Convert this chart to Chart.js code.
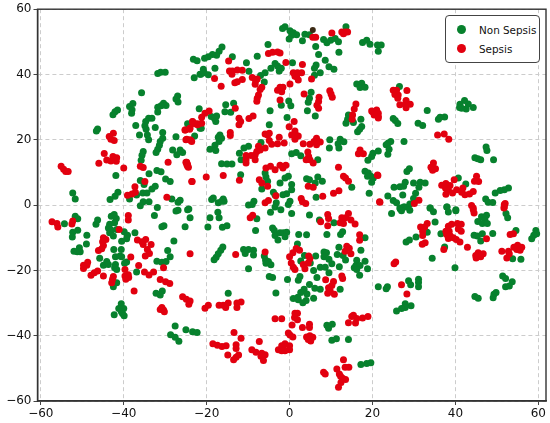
<!DOCTYPE html>
<html>
<head>
<meta charset="utf-8">
<script src="https://cdn.jsdelivr.net/npm/chart.js@4"></script>
<style>
html,body{margin:0;padding:0;background:#fff;}
#wrap{position:relative;width:550px;height:423px;overflow:hidden;font-family:"DejaVu Sans",sans-serif;}
#c{position:absolute;left:0;top:0;}
#legend{position:absolute;left:445px;top:15px;width:93px;height:46px;border:1px solid #444;border-radius:4px;background:#fff;box-sizing:content-box;}
.item{position:absolute;left:33px;font-size:10.4px;line-height:14px;color:#111;white-space:nowrap;}
.dot{position:absolute;left:11px;width:9px;height:9px;border-radius:50%;}
</style>
</head>
<body>
<div id="wrap"><canvas id="c" width="550" height="423"></canvas><div id="legend"></div></div>
<script>
const seriesNames = ["Non Sepsis", "Sepsis"];
const tickValues = [-60, -40, -20, 0, 20, 40, 60];

const nonSepsis = [
[-23.2,44.7],[-22.3,44.2],[-23,39],[-21.6,40.1],[-31.8,40.3],[-31.1,40.7],[-30,40.7],[-35.7,34.4],[-27,33.4],[-27.4,32.5],[-26.9,31.6],[-21.8,29.5],
[-37.8,31.1],[-38.6,30.2],[-38,29.2],[-38.1,28.1],[-41.5,29.1],[-42.1,28.6],[-42.6,27.7],[-46.3,23.3],[-46.6,22.7],[-37.1,24.4],[-36.2,21.5],
[-31.8,30],[-30.4,31.2],[-29.8,30.5],[-31,30.4],[-31.8,28.5],[-34,26.6],[-33.2,26.6],[-34.7,25.6],[-34.9,24.3],[-34.6,23.2],[-34.3,21.5],[-34,20],
[-32.4,23.8],[-30.6,22.2],[-30.6,20.5],[-31.2,19.5],[-31.4,18.3],[-31.8,17.1],[-32.2,16.1],[-27.4,20.9],[-24.6,24.9],[-22.9,21.2],[-21.6,23.5],
[-28.2,16.9],[-26.4,16.9],[-25.8,16.1],[-27.2,15.4],[-35.3,16.4],[-35.6,15.3],[-35.8,13.7],[-41.9,9.1],[-33.9,9.6],[-32,10.6],[-31,10.2],[-29.9,8],[-28.8,7.2],
[-36,7.5],[-35.1,6.3],[-32.4,5.8],[-33.2,4.9],[-35.4,3.7],[-34.4,3.7],[-36.9,3.1],[-41.4,3.9],[-42.1,2.7],[-38.6,1.9],[-43.3,1.7],[-52.3,3.7],[-51.7,1.9],
[-28.4,1.9],[-26.4,1.5],[-26.9,0.9],[-35.3,1],[-33.9,1],[-36,-0.2],[-31.9,-0.7],[-26.9,-1.6],[-24.3,-1.2],
[-1.1,54.6],[-1.7,54.1],[0.1,53.4],[0.9,52.8],[1.7,52.2],[0.5,52],[-0.1,50.9],[3.7,52.3],[4.8,52.2],[3.1,50.3],[6.3,48.6],[8.2,50.7],[9,49.7],[9.9,50.5],[11,51],[11.8,50],
[13.6,54.6],[11.9,46.8],[7,46.1],[8.6,44.4],[6.4,42.9],[6,41.9],[9.5,42.4],[10.7,41.6],[7.4,40.5],[6,39.8],[17.6,49.8],[18.6,50.5],[19.4,49.3],[21.2,49],[22.1,49],[21.4,47.1],
[-5.2,49.2],[-16.3,48.4],[-17,47.1],[-17.6,45.9],[-18.6,46.1],[-19.6,45.4],[-20.5,45],[-13.8,45.4],[-7.8,45.6],[-10.4,43.6],[-20.8,41.6],[-21.4,40.1],[-20.6,40.5],[-19.6,39.9],[-18,41.9],
[-9.8,41],[-7,39.7],[-5.9,40.5],[-6.1,37.7],[-4.5,41.9],[-3.5,43.4],[-2.9,42.6],[-2.5,41.1],[0.7,43.6],[-2,41.9],[16.2,37.1],[17.4,37.3],[17,36],[18.2,36.1],
[5.2,34.6],[4.8,32.7],[4.5,31.5],[-0.2,31.9],[0.3,30.4],[-2,30.6],[4.3,28.9],[6.2,27.3],[-4.7,28.9],[-15.4,30.7],[-13.5,31.2],[-15.6,28.6],[-14.2,28.4],
[-18.9,27.1],[-17.6,27.3],[-18.1,26.5],[-17.8,25.6],[-21.3,23.5],[-0.6,26.8],[-4.9,24.6],[-16.8,21.5],[-17.2,20.8],[-16.4,20.5],[-17,19.5],[-18,18.3],[-19.2,17.1],[-17.8,16.7],
[-6.9,19.2],[-9.9,18],[-11,17.5],[-12.1,15.9],[-11.7,13.9],[1.6,16.1],[0.5,15.7],[2.7,15.1],[9.7,20],[9.6,17.5],[12.2,20.2],[13.1,19.4],[11.7,18.8],[11.9,17.5],[6.8,13.9],
[-16.4,12.7],[-15.1,12.6],[-13.9,12.6],[-11.8,9.3],[-5.9,9.8],[-5.7,8.6],[-5.3,7.3],[-2.3,6.8],[-6.7,4.9],[-3.9,3.9],[-3.5,3.1],[-1.6,3.2],[-0.7,3.5],[0.5,6.3],[0.5,4.7],[-0.3,8.8],[-1.1,8.3],
[4.1,8.1],[4.8,7.8],[6.8,8.6],[6.2,6.8],[7.9,7.3],[6.4,2.4],[19.2,3.6],[-18.4,2.2],[-18.8,1.7],[-16,1.9],[-15.8,1.2],[-17.2,0.7],[-16.4,1.2],[-9.9,0],[-8.6,1.2],[-9,0.2],[0.1,1.2],[-0.3,0.2],[-3.2,0.7],[-3.5,-0.6],
[13.6,25.1],[14.2,27.6],[14,26.3],[15.4,25.3],[17.2,26.3],[17.4,24.1],[16.9,23.2],[16.4,22.5],[20.1,15.9],[19.8,14.9],[18.9,13.7],[18.2,10.4],[19,9.8],[19.6,8.8],[19.8,7],[15,5.5],
[26.5,36.3],[33.2,29],[42.2,32],[41.1,30.9],[43.1,31],[41,29.9],[42.6,29.4],[44.3,29.9],[41.5,29.7],[37.4,27],[35.9,26.3],[36.3,26.9],[25,26.5],[25.5,25.9],[26.1,25],[31,25.1],[32.1,24.4],
[27.6,19.5],[24.4,19.5],[23.8,19],[23.3,18.5],[24,17.1],[23.7,15.6],[21.4,16.6],[47.4,17.8],[47.6,16.7],[44.7,14.5],[45.4,14.2],[46.1,13.9],[49.2,13.9],[28.9,11.1],[28.3,10.3],[18.8,8.8],[20.2,8.3],
[25.2,5.5],[26.6,5.6],[27.9,7],[27.5,5.8],[29.9,6.8],[31.5,7],[32.7,6.8],[31.2,5.5],[30.4,3.6],[27.3,3.1],[23.7,2.8],[25,1.4],[25.8,0.7],[29.9,2],[29,0.3],[26.6,-0.9],[27.8,-0.6],[33.9,-0.9],[37.9,-0.6],[40.1,-1.4],
[40.7,8.3],[42.5,6.5],[52.8,5.2],[51.8,4.7],[50.8,4.5],[49.6,3.7],[47.3,1.9],[47.9,0.9],[49,0.8],
[-54.3,-5.7],[-51.7,-3.4],[-51.1,-4.2],[-51.1,-7.7],[-52.3,-8.3],[-52.4,-9.8],[-48.9,-9.2],[-49,-11.9],[-50.7,-13.1],[-52,-14.1],[-51.2,-14.3],[-50.5,-14.3],[-46.3,-4.6],[-46.7,-5.9],
[-43,-3.4],[-42.3,-2.9],[-41.8,-4.1],[-42.2,-5.4],[-43.4,-5.9],[-43.7,-7],[-43,-7.7],[-43.4,-8.5],[-42.5,-9.5],[-41.7,-7.5],[-39.9,-8.2],[-39.1,-9.2],[-39.3,-10.3],[-40.5,-11.1],[-37.3,-8.5],
[-42.4,-13.6],[-40.6,-13.6],[-42,-15.8],[-40.9,-15.6],[-40.5,-15.8],[-45.8,-16.3],[-44.1,-17.3],[-44.9,-18.4],[-43.7,-18.2],[-42,-18.2],[-42.2,-19.2],[-41.7,-19.7],[-39.3,-17.4],[-39.8,-17.8],[-36.9,-20.5],
[-32,-17.2],[-30.8,-17.5],[-29.8,-17.3],[-29.4,-13.9],[-28.8,-15.8],[-27.9,-11],[-25.2,-6.6],[-24,-3.9],[-24.6,-1.4],[-27.4,-1.8],[-32.6,-3.2],[-30.3,-6.3],[-30.8,-6.6],
[-41.7,-23.8],[-42.5,-25],[-32.2,-27],[-31.2,-27.5],[-30.7,-26.3],[-40.6,-30.2],[-41.2,-31.7],[-40,-31.7],[-40.6,-32.6],[-42.3,-33.6],[-40.3,-33.2],[-39.9,-33.9],
[-27.6,-37],[-25,-38.2],[-23.4,-38.8],[-22.3,-39],[-28.7,-39.7],[-27.6,-40.5],[-26.7,-41.7],
[-19.7,-6.7],[-19.2,-3.9],[-17.3,-2.2],[-17,-3.9],[-16.2,-6.8],[-15.1,-6.3],[-7.9,-4.2],[-8.2,-7.8],[-4.6,-2.2],[-2.1,-1.4],[0.5,-2.6],[4.8,-3],[-4.1,-7],[-3.7,-7.7],[-2.3,-8.5],[-3.5,-9.3],[-2.8,-10.7],[-1.5,-8.5],[-0.7,-8.3],[-1.1,-9.7],
[2.2,-9],[4.1,-9.1],[7.2,-4.6],[10.7,-5.4],[9,-9],[12.3,-9],[12.8,-8.2],[18.2,-10],[17.2,-13.8],[1.9,-11.9],[-16.1,-12.8],[-16.6,-13.8],[-17.2,-14.9],[-17.7,-16],[-18.2,-16.7],
[-11.1,-13.6],[-9.9,-13.6],[-8.7,-13.8],[-10.7,-14.8],[-8.7,-15.3],[-6.1,-15.6],[-5.8,-16.8],[-5.1,-17.3],[-5.7,-17.8],[-4.5,-18.3],[-9.9,-19.5],[-4.9,-21.9],[-4.1,-22.2],[-0.5,-22.8],[-3.3,-26.9],[-14.8,-27],
[3.6,-15.4],[2.7,-17.1],[6.3,-15.6],[5,-17.7],[5.8,-20],[7.4,-19],[8.6,-19],[10.2,-18],[8.3,-14.4],[8.9,-14.6],[8.3,-15.8],[9.5,-16.6],[9.5,-20.7],[11.9,-12.9],[11.5,-15.1],[12.9,-15.4],[13.5,-16.8],[12,-18.9],
[16.2,-16.9],[16,-18.5],[17,-18.5],[15.6,-19.2],[16.2,-19.7],[18.2,-17.2],[18.8,-19.5],[16.9,-21.5],[6.6,-22.2],[2.5,-21.9],[2.1,-23],[4.8,-24.3],[3.5,-25.8],[2.7,-26.8],[6.1,-25.5],[7.4,-25.8],[12.2,-25.8],
[2,-28.2],[4.2,-27.2],[0.9,-28.6],[2.1,-29],[3.2,-29.9],[4,-29.2],[5.8,-28.5],[9,-36.8],[10.3,-36.5],[9.4,-37.7],[10.2,-41.4],[11.3,-40.9],[14.2,-41.2],[17.2,-48.8],[18.6,-48.5],[19.6,-48.3],
[24.6,-2.6],[26.7,-1.2],[27.5,-0.6],[27,-1.7],[29,-1.6],[33.9,-0.9],[34.7,-2],[38,-0.6],[38.3,-2.1],[40.1,-1.7],[35.1,-5.2],[33.2,-8.3],[36.5,-8.8],[30.5,-9.8],[28.1,-11.3],[28.9,-10.7],[37.4,-12.8],[34.4,-16.3],[39.9,-19.2],
[45.4,-5],[46.3,-3.6],[47.5,-3.1],[47.1,-4.4],[46.5,-5.6],[47.7,-5.6],[44.5,-9.2],[45.3,-9.5],[46.5,-8.8],[49,-8.7],[46.1,-11],[52.2,-2.6],[52.6,-3.9],[54.6,-7.8],[53.8,-16.4],[55.8,-16.6],
[59.4,-7.8],[59.6,-8.8],[58.9,-9.2],[58.4,-10.3],[51.4,-21.7],[52.1,-22.5],[53.7,-23.5],[53,-24.8],[52.1,-25],[44.7,-28],[45.5,-28.5],[49.8,-26.8],[49.3,-27.3],[49.1,-28.4],
[21.4,-25],[23.3,-25.6],[23.6,-25],[28.7,-23.2],[29.2,-24.4],[31.1,-22.7],[31.1,-23.7],[31.1,-25],[29.3,-30.8],[27.9,-30.2],[27.9,-31.4],[27,-31.7],[25.8,-32.4]
];

const sepsis = [
[-42.5,22],[-43.5,21],[-43.1,20.2],[-42.3,19.8],[-55.1,11.9],[-54.5,11],[-54,10.3],[-53.4,10.3],[-44.7,15.8],[-46,12.8],[-44.1,13.8],[-43.1,13.5],[-42.6,14.9],[-41.7,14.5],[-41.8,13.4],[-40,11.4],
[-36,11.9],[-35.3,11.5],[-34.9,7.2],[-29.3,13.1],[-25,13.1],[-24.8,12.4],[-24.6,11.9],[-23.6,7.2],[-37.3,5.6],[-38,3.4],[-39.1,3],[-37.2,3.9],[-29.6,2.4],
[-23.4,25.5],[-22.2,24.9],[-21.2,25.1],[-25.2,23],[-24.1,23.2],[-24,20],[-25,20],[-23.6,19.5],
[5.6,51.4],[6.3,51.4],[10.2,52.7],[12.6,53],[13.4,53],[14,53],[13,52.5],[-5.1,46.4],[-4.1,46.8],[-2.9,46.9],[-2.3,46.6],[-14.7,44.1],[-0.9,43.7],[3.1,43.1],
[-14.5,41.1],[-13.8,41.1],[-12.6,41.4],[-11.4,41.3],[-13.9,40.1],[-18.1,38.8],[-16.5,36.4],[-13.2,37.5],[-12.6,37.8],[-11.4,38.5],[-9,39.1],[-7.8,38.6],[-8.2,38],[-8.3,37],[-6.7,36.1],[-7.1,35.4],[-7.5,33.7],[-7.8,32.7],[-7.9,31.8],
[-2.3,36.1],[-1.6,36.1],[-2.9,35.2],[-1.9,34.7],[0.1,37.1],[-2.3,32.2],[0.9,40.5],[1.9,40.5],[2.9,40.5],[1.7,39.3],[2.1,38.3],[1.3,39.5],[5.3,38.6],[3.5,34],[9.7,35],[10,34],[10.3,33],[7.1,33],[7,31.7],[6.6,30.6],[7,29.7],
[16,31],[15.6,29.4],[15.2,27.6],[15.1,26.3],[20,28.6],[21,28.6],[21.4,27.1],[-13.1,29.7],[-12.2,26.6],[-11.8,25.6],[-12.2,24.6],[-9.8,26.5],[-8.8,27.3],[-19.4,28.8],[-20.4,28.1],[-21.2,26.9],
[-23.4,25.6],[-22.8,24.9],[-22.2,24.6],[-24,23.6],[-25.2,23],[-24.8,20.2],[-23.8,19.8],[1.1,25.6],[-0.1,24],[1.3,22.7],[0.5,21.5],[1.5,21.5],[2.1,21.2],[1.3,20.2],[-2.5,20.8],[-5.3,21.5],[-5.9,21.8],[-4.9,22],[-4.9,19.8],[-4.3,18.6],[-2.9,18.8],[-1.3,19],[-5.9,17.5],
[-14.3,22.2],[-14.3,21.3],[3.3,18.8],[4.9,18.6],[6.5,20.5],[5.9,19.5],[7.4,19.3],[6.5,18.5],[4.4,16.3],[4.6,14.9],[4,13.9],[4.9,13.9],[5.7,12.9],[17,16.9],[16.6,15.7],[17.8,15.7],[11.8,11.6],[13,8.8],[13.5,8.3],[14.2,7.3],
[4.5,5.8],[5.7,5.5],[8,2.7],[10.6,3.6],[11.9,4.4],[21.3,9.1],[21.7,1],[-24.8,13.1],[-24.6,12.4],[-24.4,11.6],[-23.5,7.2],[-20.1,8.6],[-16,9.1],[-12.1,7.6],[-7.3,7.8],[-6.7,6.8],[-5.3,5.8],[-5.7,11.4],[-4.6,11.9],[-3.5,10.8],[-2.3,12.2],[-0.9,12.2],[-1.6,11.4],
[-3.3,2.9],[-5.9,0.7],[-5.1,1.4],[2.8,2],[3.1,1],[3.9,0.5],[-7.1,16.9],[-7.5,18],[-7.9,16.4],[-8.3,15.4],[-9.3,15.2],[-10.5,15.2],[-10.5,13.9],[-10.5,12.9],[-8.3,13.9],
[25,35.2],[25.8,35.2],[28.3,35.1],[25.4,33.9],[26.2,33.7],[26.1,32.7],[28.1,32],[26.6,30.7],[27.9,30.9],[29.1,30.9],[28.1,29.8],[19.8,28.8],[21,29.1],[21.4,28.1],[20.4,27.6],[21.4,26.7],
[35.7,21.5],[37.3,21.8],[38.4,20.2],[34.7,12.9],[34.1,11.6],[35.2,11.1],[34.5,10.7],[21.2,9.2],[39.7,7.8],[45.1,8.8],[44.6,7.3],[45.6,7.2],[36.7,6.1],[37.7,6.6],[38.7,6],[37.6,5.2],[38.3,4.7],[37.7,3.3],[39.3,3.7],[40.3,4.7],[41.8,5.2],[41.5,3.9],[42.3,3.2],[43.4,3.4],[44.3,4.2],
[21.8,0.9],[30.1,0.5],[31.2,1.5],[52,0.5],[51.8,-0.6],[44.3,-0.9],
[-57.3,-5.1],[-56.1,-5.6],[-55.9,-6.7],[-52.3,-4.9],[-52.5,-5.8],[-38.9,-3.2],[-38.9,-4.6],[-41.1,-7.5],[-44.9,-10],[-44.3,-10.5],[-45.1,-11.2],[-44.9,-12.4],[-45.3,-13.4],[-46.1,-13.9],
[-36.7,-10.7],[-35.6,-11.2],[-34.7,-10.5],[-35.3,-12.1],[-33.4,-12.1],[-34.3,-13.6],[-33.8,-14.8],[-34.8,-15.6],[-38.3,-15.9],[-48.7,-17.5],[-49.7,-18.4],[-48.9,-18.4],[-49.7,-19.4],[-46.3,-20.2],[-47.1,-20.7],[-47.9,-21.5],[-44.9,-21.7],
[-42.5,-21.9],[-42.7,-22.7],[-42.9,-23.8],[-39.7,-19.7],[-39.7,-21.7],[-38.9,-21.3],[-39.5,-22.7],[-38.8,-22.2],[-36.4,-18.5],[-35,-20.5],[-33.9,-21.4],[-32.8,-20.5],[-31.2,-22.8],[-29.9,-23.5],[-28.9,-24],[-30.4,-19.2],[-37.5,-26.3],
[-30.8,-31.4],[-30.4,-32.1],[-30.2,-32.7],[-31.2,-32],[-25.8,-28.1],[-24.9,-28.8],[-24,-29.4],[-24.3,-30.4],[-24,-14.9],
[-9.5,-3.9],[-8.9,-3.1],[-13,-15.1],[-5.9,-14.4],[9.2,-2.9],[9.4,-4.1],[7.5,-5.1],[9.2,-6.3],[14.2,-2.6],[13.5,-3.9],[12.6,-3.9],[12.2,-5.4],[13,-5.6],[14.8,-4.6],[15.8,-5.8],[16.9,-9.1],[16.9,-10.8],
[1.6,-13.3],[2.4,-13.8],[0.8,-14.6],[0,-15.8],[0.4,-17.7],[0.9,-19],[1.3,-19.7],[3.3,-18.2],[3.7,-19.5],[4.6,-15.6],[4.9,-16.4],[4.5,-17.7],[13.8,-12.6],[14.4,-13.2],[13.4,-14.1],[14.8,-14.9],[12.6,-21.7],[12.8,-22.5],
[8.7,-22.9],[10.6,-23.4],[10.2,-24.6],[9.4,-25.3],[9.8,-26.3],[9.2,-27],[10.8,-27.3],[-20.4,-31.6],[-19.6,-30.7],[-17,-30.7],[-16,-30.7],[-14.8,-30],[-15.4,-31.4],[-12.7,-30],[-11.7,-29.7],[-12.7,-31.4],
[1.3,-33.1],[1.9,-33.1],[1.2,-34.4],[1.9,-35.1],[-3.5,-34.8],[-1.9,-34.8],[0.6,-36.7],[3.1,-37.5],[4.8,-36.5],[4.8,-37.5],[-0.3,-39.2],[0.1,-39.8],[0.8,-40.4],[4.1,-40.4],[4.9,-40],[5.6,-40.5],[4.5,-41.2],[5.1,-41.6],
[-13.4,-39],[-11.7,-40.8],[-18.5,-42.5],[-17.4,-42.9],[-16.3,-43.3],[-15.3,-43.1],[-12.9,-42.8],[-12.9,-43.9],[-14.9,-45.9],[-12.3,-45.9],[-12.9,-46.6],[-13.5,-47.4],[-7.3,-41.8],[-9.1,-44.3],[-8.1,-45.1],[-6.7,-45.4],[-5.9,-45.8],[-6.9,-46.3],[-6.3,-47.6],
[-2.7,-44.3],[-1.9,-43.1],[-1.1,-42.5],[0,-43.1],[0,-44.3],[-1.5,-44.1],[-1.9,-44.6],[-1.1,-44.6],[8.2,-51.2],[8.6,-51.7],[11.4,-50.2],[13,-47.4],[13.4,-49.7],[14.3,-49.7],[12,-51.7],[13.5,-53.4],[12.8,-53],[12.4,-54.3],[11.8,-55.8],[12.3,-52.4],
[15,-34.1],[15.4,-33.7],[14.2,-36],[15.9,-36.1],[16.2,-34.7],[17.6,-34.6],[18.9,-34.1],
[43.9,-0.1],[44.3,-1.4],[44.5,-2.4],[51.8,0.2],[51.7,-0.9],[33.2,-5.6],[31.6,-6.7],[32.6,-6.7],[32.1,-8],[32.1,-9.3],[32.7,-11.5],[32,-12],[25.6,-17.4],[25.2,-18],[27,-24.4],[28.3,-27.2],[37.2,-13.6],
[38.3,-6.5],[39.1,-5.9],[37.7,-8],[38.5,-8],[37.9,-9],[38.7,-9.3],[38.3,-10.2],[39.5,-10],[40.5,-5.6],[41.4,-5.9],[40.7,-7.3],[41.4,-8],[40.2,-10.5],[41.1,-11.3],[42.9,-12.9],[47.5,-10.3],
[45.5,-14.6],[46.7,-14.9],[44.9,-15.4],[46.1,-15.8],[45,-16.2],[51.2,-14.1],[52.8,-14.1],[53,-14.9],[52.4,-16.2],[53.2,-9],[54,-8.8],[54.1,-12.9],[55,-12.3],[56,-12.9],[54.8,-13.6],[55.6,-13.8]
];

const overlapPoints = [[5.6,53.6]];

const GREEN = "#07812d", RED = "#e2000f", DARK = "#3b2a14";
const toXY = a => a.map(p => ({x:p[0], y:p[1]}));
const fmt = v => String(v).replace("-", "\u2212");

const frame = {
  id: "frame",
  afterDatasetsDraw(chart){
    const a = chart.chartArea, c = chart.ctx;
    c.save(); c.strokeStyle = "#333"; c.lineWidth = 1.4;
    c.strokeRect(a.left, a.top, a.right - a.left, a.bottom - a.top);
    c.restore();
  }
};

const axisStyle = {
  grid:{color:"#cccccc", lineWidth:1, tickColor:"#444", tickLength:4, drawOnChartArea:true},
  border:{dash:[4,3], color:"#333", width:1.4},
};
const tickStyle = {color:"#111", font:{family:"DejaVu Sans", size:12}, padding:2, stepSize:20, includeBounds:false, autoSkip:false, maxRotation:0, callback:fmt};

const chart = new Chart(document.getElementById("c"), {
  type:"scatter",
  data:{datasets:[
    {label:seriesNames[0], data:toXY(nonSepsis), backgroundColor:GREEN, borderWidth:0, pointRadius:3.5, order:3},
    {label:seriesNames[1], data:toXY(sepsis), backgroundColor:RED, borderWidth:0, pointRadius:3.5, order:2},
    {label:"Overlap", data:toXY(overlapPoints), backgroundColor:DARK, borderWidth:0, pointRadius:3, order:1}
  ]},
  options:{
    responsive:false, animation:false,
    layout:{padding:{left:0, right:4, top:7, bottom:0}},
    plugins:{legend:{display:false}, tooltip:{enabled:false}},
    scales:{
      x:{type:"linear", min:-60.8, max:61.85, afterBuildTicks(s){s.ticks = tickValues.map(v=>({value:v}));}, afterFit(s){s.height = 22;}, ticks:tickStyle, ...axisStyle},
      y:{type:"linear", min:-60, max:60, afterBuildTicks(s){s.ticks = tickValues.map(v=>({value:v}));}, afterFit(s){s.width = 37.5;}, ticks:tickStyle, ...axisStyle}
    }
  },
  plugins:[frame]
});

const legendEl = document.getElementById("legend");
[0,1].forEach(i=>{
  const ds = chart.data.datasets[i];
  const top = i===0 ? 9 : 28;
  const dot = document.createElement("span");
  dot.className="dot"; dot.style.top=top+"px"; dot.style.background=ds.backgroundColor;
  const t = document.createElement("span");
  t.className="item"; t.style.top=(top-2.5)+"px"; t.textContent=ds.label;
  legendEl.append(dot,t);
});
</script>
</body>
</html>
